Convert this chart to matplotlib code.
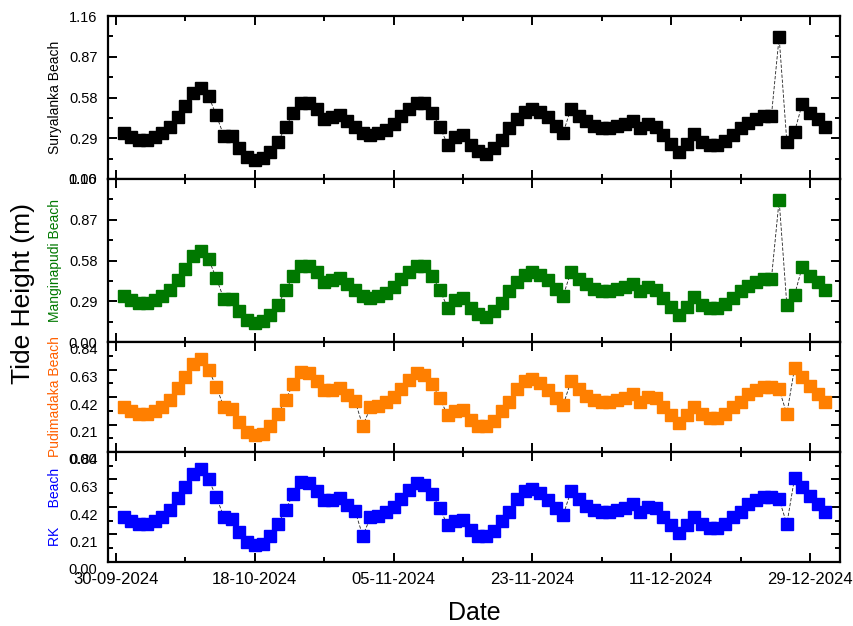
import numpy as np
import pandas as pd
import matplotlib
matplotlib.use('Agg')
import matplotlib.pyplot as plt
import matplotlib.dates as mdates
import matplotlib.transforms as mtransforms

plt.rcParams['font.family'] = ['Liberation Sans', 'DejaVu Sans']

# daily values, 01-10-2024 .. 31-12-2024
dates = pd.date_range('2024-10-01', '2024-12-31', freq='D')

suryalanka = [0.325, 0.30, 0.28, 0.28, 0.30, 0.325, 0.37, 0.44, 0.52, 0.61,
              0.65, 0.59, 0.455, 0.305, 0.305, 0.22, 0.16, 0.135, 0.147, 0.19,
              0.265, 0.37, 0.47, 0.54, 0.54, 0.50, 0.43, 0.44, 0.455, 0.41,
              0.37, 0.33, 0.31, 0.325, 0.35, 0.39, 0.45, 0.50, 0.54, 0.54,
              0.47, 0.37, 0.245, 0.30, 0.31, 0.24, 0.20, 0.18, 0.22, 0.28,
              0.36, 0.43, 0.48, 0.50, 0.48, 0.44, 0.38, 0.33, 0.50, 0.45,
              0.41, 0.38, 0.36, 0.36, 0.38, 0.39, 0.41, 0.36, 0.39, 0.37,
              0.31, 0.25, 0.19, 0.25, 0.32, 0.265, 0.24, 0.24, 0.27, 0.31,
              0.36, 0.40, 0.43, 0.45, 0.45, 1.01, 0.265, 0.335, 0.535, 0.47,
              0.425, 0.37]

manginapudi = [0.325, 0.30, 0.28, 0.28, 0.30, 0.325, 0.37, 0.44, 0.52, 0.61,
               0.65, 0.59, 0.455, 0.305, 0.305, 0.22, 0.16, 0.135, 0.147, 0.19,
               0.265, 0.37, 0.47, 0.54, 0.54, 0.50, 0.43, 0.44, 0.455, 0.41,
               0.37, 0.33, 0.31, 0.325, 0.35, 0.39, 0.45, 0.50, 0.54, 0.54,
               0.47, 0.37, 0.245, 0.30, 0.31, 0.24, 0.20, 0.18, 0.22, 0.28,
               0.36, 0.43, 0.48, 0.50, 0.48, 0.44, 0.38, 0.33, 0.50, 0.45,
               0.41, 0.38, 0.36, 0.36, 0.38, 0.39, 0.41, 0.36, 0.39, 0.37,
               0.31, 0.25, 0.19, 0.25, 0.32, 0.265, 0.24, 0.24, 0.27, 0.31,
               0.36, 0.40, 0.43, 0.45, 0.45, 1.01, 0.265, 0.335, 0.535, 0.47,
               0.425, 0.37]

pudimadaka = [0.346, 0.31, 0.29, 0.29, 0.31, 0.346, 0.40, 0.49, 0.57, 0.67,
              0.71, 0.63, 0.50, 0.34, 0.33, 0.23, 0.155, 0.13, 0.14, 0.20,
              0.29, 0.40, 0.52, 0.61, 0.60, 0.54, 0.47, 0.47, 0.49, 0.435,
              0.39, 0.20, 0.34, 0.35, 0.38, 0.42, 0.48, 0.55, 0.60, 0.59,
              0.52, 0.41, 0.28, 0.31, 0.32, 0.245, 0.20, 0.20, 0.235, 0.31,
              0.385, 0.48, 0.54, 0.56, 0.53, 0.47, 0.415, 0.36, 0.54, 0.48,
              0.43, 0.40, 0.385, 0.385, 0.40, 0.415, 0.44, 0.385, 0.42, 0.41,
              0.346, 0.28, 0.22, 0.28, 0.34, 0.29, 0.26, 0.26, 0.29, 0.34,
              0.385, 0.44, 0.47, 0.50, 0.50, 0.48, 0.29, 0.64, 0.575, 0.505,
              0.44, 0.385]

rk = [0.346, 0.31, 0.29, 0.29, 0.31, 0.346, 0.40, 0.49, 0.57, 0.67,
      0.71, 0.63, 0.50, 0.34, 0.33, 0.23, 0.155, 0.13, 0.14, 0.20,
      0.29, 0.40, 0.52, 0.61, 0.60, 0.54, 0.47, 0.47, 0.49, 0.435,
      0.39, 0.20, 0.34, 0.35, 0.38, 0.42, 0.48, 0.55, 0.60, 0.59,
      0.52, 0.41, 0.28, 0.31, 0.32, 0.245, 0.20, 0.20, 0.235, 0.31,
      0.385, 0.48, 0.54, 0.56, 0.53, 0.47, 0.415, 0.36, 0.54, 0.48,
      0.43, 0.40, 0.385, 0.385, 0.40, 0.415, 0.44, 0.385, 0.42, 0.41,
      0.346, 0.28, 0.22, 0.28, 0.34, 0.29, 0.26, 0.26, 0.29, 0.34,
      0.385, 0.44, 0.47, 0.50, 0.50, 0.48, 0.29, 0.64, 0.575, 0.505,
      0.44, 0.385]

beaches = ['Suryalanka Beach', 'Manginapudi Beach', 'Pudimadaka Beach', 'RK     Beach']
series = [suryalanka, manginapudi, pudimadaka, rk]
colors = ['#000000', '#007800', '#FF7F00', '#0000FF']
label_colors = ['#000000', '#007800', '#FF6000', '#0000FF']
yticks_big = [0.00, 0.29, 0.58, 0.87, 1.16]
yticks_small = [0.00, 0.21, 0.42, 0.63, 0.84]

fig = plt.figure(figsize=(8.54, 6.26), dpi=100)
gs = fig.add_gridspec(4, 1, height_ratios=[163, 163, 110, 110], hspace=0,
                      left=108/854, right=840/854, bottom=1-562/626, top=1-16/626)
axes = []
for i in range(4):
    ax = fig.add_subplot(gs[i], sharex=axes[0] if axes else None)
    axes.append(ax)

major_x = pd.date_range('2024-09-30', '2024-12-29', freq='18D')
minor_x = pd.date_range('2024-09-30', '2025-01-10', freq='9D')

for i, ax in enumerate(axes):
    ax.plot(dates, series[i], ls=(0, (4, 2)), lw=0.6, color='#222222', zorder=1)
    ax.plot(dates, series[i], ls='none', marker='s', ms=8.2,
            mfc=colors[i], mec=colors[i], zorder=2)
    if i < 2:
        ticks = yticks_big
    else:
        ticks = yticks_small
    ax.set_ylim(ticks[0], ticks[-1])
    ax.set_yticks(ticks)
    ax.set_yticks([(a + b) / 2 for a, b in zip(ticks[:-1], ticks[1:])], minor=True)
    ax.set_yticklabels([f'{t:.2f}' for t in ticks])
    ax.set_ylabel(beaches[i], color=label_colors[i], fontsize=10)
    ax.yaxis.set_label_coords(-0.063, 0.5)
    for s in ax.spines.values():
        s.set_linewidth(1.6)
    ax.tick_params(which='both', direction='in', top=True, right=True, width=1.4)
    ax.tick_params(which='major', length=6.5)
    ax.tick_params(which='minor', length=3.5)
    ax.tick_params(axis='y', labelsize=10.5, pad=7.5)
    ax.tick_params(axis='x', labelsize=12, pad=7)
    if i >= 2:
        off = mtransforms.ScaledTranslation(0, -7/100, fig.dpi_scale_trans)
        for lbl in ax.get_yticklabels():
            lbl.set_transform(lbl.get_transform() + off)
    if i < 3:
        ax.tick_params(axis='x', labelbottom=False)

axes[0].set_xticks(major_x)
axes[0].set_xticks(minor_x, minor=True)
axes[0].xaxis.set_major_formatter(mdates.DateFormatter('%d-%m-%Y'))
axes[0].set_xlim(pd.Timestamp('2024-09-28 23:00'), pd.Timestamp('2025-01-01 21:30'))

axes[3].set_xlabel('Date', fontsize=18, labelpad=10)
fig.text(23.5/854, 1-293/626, 'Tide Height (m)', rotation=90, fontsize=19,
         ha='center', va='center')

fig.savefig('out.png', dpi=100)
